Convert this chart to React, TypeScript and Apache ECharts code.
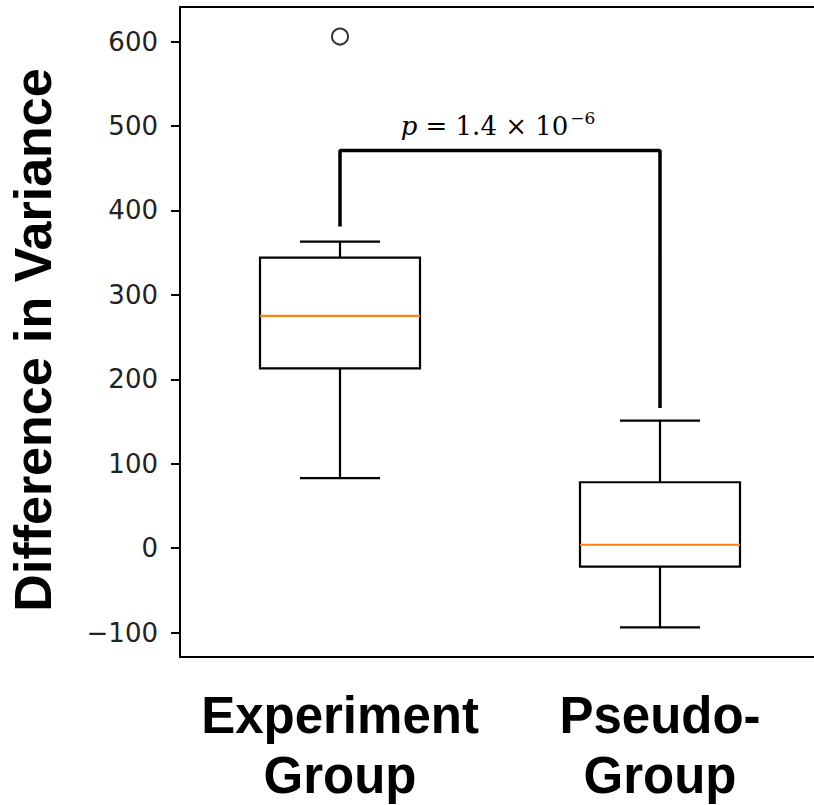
import React, { useEffect, useRef } from "react";
import * as echarts from "echarts";

const categories = ["Experiment\nGroup", "Pseudo-\nGroup"];
// [lower whisker, Q1, median, Q3, upper whisker]
const boxStats = [
  [83, 213, 275, 344, 363],
  [-94, -22, 4, 78, 151],
];
const outliers = [[0, 606]];
const yTicks = [-100, 0, 100, 200, 300, 400, 500, 600];
const bracket = [
  [0, 381],
  [0, 471],
  [1, 471],
  [1, 166],
];
const yTitle = "Difference in Variance";

export default function App() {
  const ref = useRef<HTMLDivElement>(null);
  useEffect(() => {
    if (!ref.current) return;
    const chart = echarts.init(ref.current, undefined, { renderer: "svg" });
    chart.setOption({
      animation: false,
      backgroundColor: "#fff",
      grid: {
        left: 180,
        right: -6,
        top: 7,
        bottom: 148,
        show: true,
        borderColor: "#000",
        borderWidth: 2,
        outerBoundsMode: "none",
      },
      xAxis: {
        type: "category",
        data: categories,
        axisLine: { onZero: false, lineStyle: { color: "#000", width: 2 } },
        axisTick: { alignWithLabel: true, length: 9, lineStyle: { color: "#000", width: 2 } },
        axisLabel: {
          interval: 0,
          fontFamily: "Liberation Sans",
          fontWeight: "bold",
          fontSize: 51,
          lineHeight: 60,
          color: "#000",
          margin: 28,
        },
        splitLine: { show: false },
      },
      yAxis: {
        type: "value",
        min: -129,
        max: 641,
        name: yTitle,
        nameLocation: "middle",
        nameGap: 121,
        nameTextStyle: {
          fontFamily: "Liberation Sans",
          fontWeight: "bold",
          fontSize: 52,
          color: "#000",
          padding: [0, 16, 0, 0],
        },
        axisLine: { show: true, lineStyle: { color: "#000", width: 2 } },
        axisTick: {
          show: true,
          length: 9,
          customValues: yTicks,
          lineStyle: { color: "#000", width: 2 },
        },
        axisLabel: {
          customValues: yTicks,
          fontFamily: "DejaVu Sans",
          fontSize: 26,
          color: "#222",
          margin: 22,
          formatter: (v: number) => String(v).replace("-", "\u2212"),
        },
        splitLine: { show: false },
      },
      series: [
        {
          type: "custom",
          data: boxStats.map((s, i) => [i, ...s]),
          encode: { x: 0, y: [1, 2, 3, 4, 5] },
          renderItem: (params: any, api: any) => {
            const idx = api.value(0);
            const lo = api.coord([idx, api.value(1)]);
            const q1 = api.coord([idx, api.value(2)]);
            const med = api.coord([idx, api.value(3)]);
            const q3 = api.coord([idx, api.value(4)]);
            const hi = api.coord([idx, api.value(5)]);
            const bw = api.size([1, 0])[0];
            const half = bw * 0.25;
            const cap = bw * 0.125;
            const x = lo[0];
            const st = { stroke: "#000", lineWidth: 2.2, fill: "none" };
            return {
              type: "group",
              children: [
                { type: "line", shape: { x1: x, y1: q1[1], x2: x, y2: lo[1] }, style: st },
                { type: "line", shape: { x1: x, y1: q3[1], x2: x, y2: hi[1] }, style: st },
                { type: "line", shape: { x1: x - cap, y1: lo[1], x2: x + cap, y2: lo[1] }, style: st },
                { type: "line", shape: { x1: x - cap, y1: hi[1], x2: x + cap, y2: hi[1] }, style: st },
                {
                  type: "rect",
                  shape: { x: x - half, y: q3[1], width: 2 * half, height: q1[1] - q3[1] },
                  style: st,
                },
                {
                  type: "line",
                  shape: { x1: x - half, y1: med[1], x2: x + half, y2: med[1] },
                  style: { stroke: "#ff7f0e", lineWidth: 2.2 },
                },
              ],
            };
          },
        },
        {
          type: "scatter",
          data: outliers,
          symbol: "circle",
          symbolSize: 16,
          itemStyle: { color: "rgba(0,0,0,0)", borderColor: "#000", borderWidth: 2 },
        },
        {
          type: "line",
          data: bracket,
          symbol: "none",
          lineStyle: { color: "#000", width: 3.5 },
          z: 5,
        },
      ],
      graphic: [
        {
          type: "text",
          x: 498,
          y: 126,
          style: {
            text: "{i|p} = 1.4 \u00d7 10{s|\u22126}",
            align: "center",
            verticalAlign: "middle",
            fontFamily: "DejaVu Serif",
            fontSize: 26,
            fill: "#000",
            rich: {
              i: { fontFamily: "DejaVu Serif", fontStyle: "italic", fontSize: 26, fill: "#000" },
              s: { fontFamily: "DejaVu Serif", fontSize: 17, padding: [0, 0, 16, 2], fill: "#000" },
            },
          },
        },
      ],
    });
    return () => chart.dispose();
  }, []);
  return (
    <div
      ref={ref}
      style={{ position: "absolute", left: 0, top: 0, width: 814, height: 805 }}
    />
  );
}
